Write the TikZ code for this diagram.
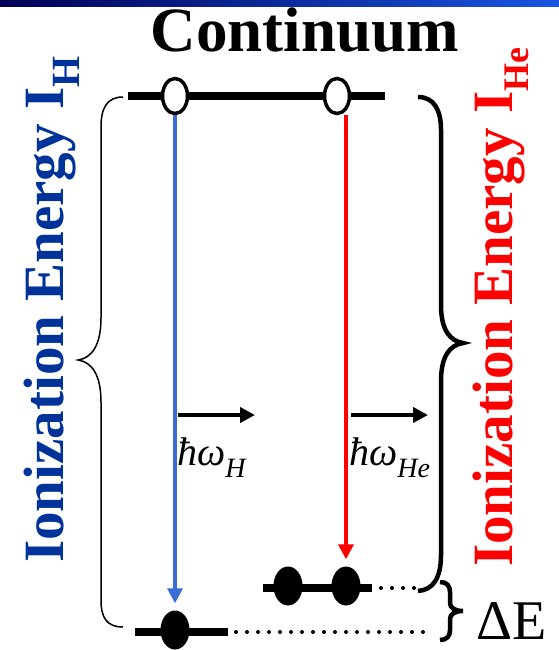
\documentclass[tikz,border=0pt]{standalone}
\usepackage{fontspec}
\setmainfont{Liberation Serif}
\usetikzlibrary{arrows.meta,shapes.geometric}
\definecolor{hblue}{RGB}{0,51,153}
\definecolor{arrblue}{RGB}{58,108,212}
\definecolor{hered}{RGB}{255,0,0}
\definecolor{barA}{RGB}{0,0,85}
\definecolor{barB}{RGB}{0,12,175}
\definecolor{barC}{RGB}{25,85,225}
\begin{document}
\begin{tikzpicture}[x=1pt,y=-1pt,
  level/.style={line width=7.5pt},
  opendot/.style={ellipse,draw=black,fill=white,line width=3.5pt,minimum width=25pt,minimum height=35pt,inner sep=0pt},
  filldot/.style={ellipse,fill=black,minimum width=29pt,minimum height=39pt,inner sep=0pt},
  dotline/.style={line width=4pt,line cap=round,dash pattern=on 0pt off 11pt},
  thinbrace/.style={line width=1.5pt},
  thickbrace/.style={line width=4.5pt},
  colarrow/.style={line width=3.5pt,-{Triangle[length=15pt,width=15pt]}},
  blackarrow/.style={line width=4pt,-{Triangle[length=15pt,width=15pt]}},
  vlabel/.style={rotate=90,anchor=base west,inner sep=0pt,font=\bfseries\fontsize{57}{60}\selectfont},
  hwlabel/.style={anchor=base west,inner sep=0pt,font=\itshape\fontsize{40}{44}\selectfont}
]
\useasboundingbox (0,0) rectangle (559,650);
% top bar
\shade[left color=barA,middle color=barB,right color=barC] (0,0) rectangle (559,7);
% title
\node[anchor=base,inner sep=0pt,font=\bfseries\fontsize{63}{66}\selectfont] (title) at (305,52) {Continuum};
% level lines
\coordinate (tL) at (128,96); \coordinate (tR) at (385,96);
\draw[level] (tL) -- (tR);
\coordinate (hL) at (135,632); \coordinate (hR) at (228,632);
\draw[level] (hL) -- (hR);
\coordinate (eL) at (263,588); \coordinate (eR) at (372,588);
\draw[level] (eL) -- (eR);
% dotted lines
\coordinate (hd1) at (236,632); \coordinate (hd2) at (427,632);
\draw[dotline] (hd1) -- (hd2);
\coordinate (ed1) at (381,588); \coordinate (ed2) at (416,588);
\draw[dotline] (ed1) -- (ed2);
% dots
\node[opendot] (c1) at (175,96) {};
\node[opendot] (c2) at (337,96) {};
\node[filldot] (h1) at (175,630) {};
\node[filldot] (he1) at (288,586) {};
\node[filldot] (he2) at (346,586) {};
% transitions
\draw[colarrow,draw=arrblue,fill=arrblue,shorten >=7pt] (c1.south) -- (h1.north);
\draw[colarrow,draw=hered,fill=hered,shorten >=7pt] (c2.south -| he2.north) -- (he2.north);
% photon arrows
\coordinate (p1s) at (178,415); \coordinate (p1e) at (255,415);
\draw[blackarrow] (p1s) -- (p1e);
\coordinate (p2s) at (351,415); \coordinate (p2e) at (428,415);
\draw[blackarrow] (p2s) -- (p2e);
\node[hwlabel] (lh) at (177,465) {ħω\raisebox{-12pt}{\fontsize{28}{30}\selectfont H}};
\node[hwlabel] (lhe) at (349,465) {ħω\raisebox{-12pt}{\fontsize{28}{30}\selectfont He}};
% left brace
\draw[thinbrace] (123,97) .. controls (107,97) and (101,108) .. (101,127) -- (101,318)
  .. controls (101,345) and (92,358) .. (78,360)
  .. controls (92,362) and (101,375) .. (101,402) -- (101,600)
  .. controls (101,618) and (107,627) .. (123,627);
% right brace
\draw[thickbrace] (418,97) .. controls (434,97) and (441,110) .. (441,130) -- (441,305)
  .. controls (441,330) and (450,341) .. (463,343)
  .. controls (450,345) and (441,356) .. (441,381) -- (441,555)
  .. controls (441,578) and (433,590) .. (418,591);
% delta E brace
\draw[thickbrace] (440,582) .. controls (447,582) and (450,586) .. (450,592) -- (450,603)
  .. controls (450,608) and (455,611) .. (463,611)
  .. controls (455,611) and (450,614) .. (450,619) -- (450,630)
  .. controls (450,636) and (447,640) .. (440,640);
\node[anchor=base west,inner sep=0pt,font=\fontsize{56}{58}\selectfont] (dE) at (476,639) {ΔE};
% vertical labels
\node[vlabel,text=hblue] (lH) at (63,563) {Ionization Energy I\raisebox{-16pt}{\fontsize{40}{42}\selectfont H}};
\node[vlabel,text=hered] (lHe) at (512,567) {Ionization Energy I\raisebox{-16pt}{\fontsize{36}{40}\selectfont He}};
\end{tikzpicture}
\end{document}
